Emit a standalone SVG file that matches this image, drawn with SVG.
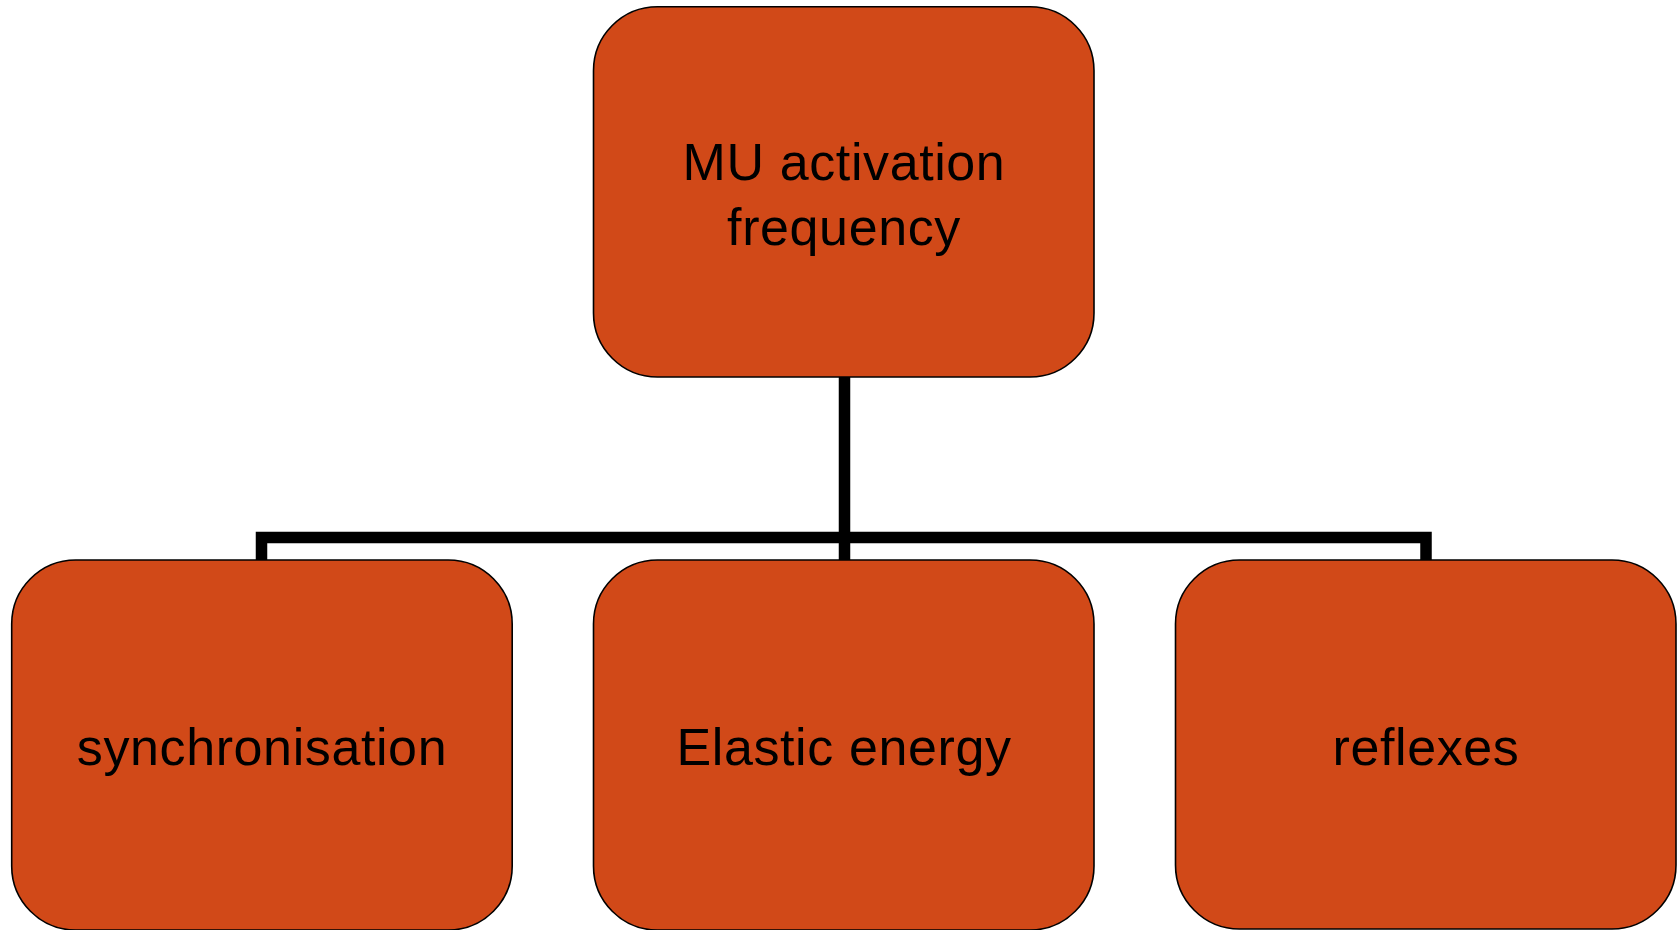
<svg xmlns="http://www.w3.org/2000/svg" width="1680" height="930" viewBox="0 0 1680 930">
<style>
.box{fill:#D14918;stroke:#000;stroke-width:1.6}
.lbl{font-family:"Liberation Sans",Arial,sans-serif;font-size:52px;letter-spacing:0.6px;fill:#000;text-anchor:middle}
.con{fill:none;stroke:#000;stroke-width:11.5;stroke-linejoin:miter;stroke-linecap:butt}
</style>
<rect width="1680" height="930" fill="#fff"/>
<g id="connectors">
<path class="con" d="M844.5 377 V560"/>
<path class="con" d="M261.5 560 V537.5 H1426 V560"/>
</g>
<g id="node-top">
<rect class="box" x="593.5" y="6.8" width="500.5" height="370.2" rx="64" ry="64"/>
<text class="lbl" x="844" y="180">MU activation</text>
<text class="lbl" x="844" y="245">frequency</text>
</g>
<g id="node-sync">
<rect class="box" x="11.7" y="560" width="500.5" height="370" rx="64" ry="64"/>
<text class="lbl" x="262" y="765">synchronisation</text>
</g>
<g id="node-elastic">
<rect class="box" x="593.5" y="560" width="500.5" height="370" rx="64" ry="64"/>
<text class="lbl" x="844" y="765">Elastic energy</text>
</g>
<g id="node-reflexes">
<rect class="box" x="1175.5" y="560" width="500.5" height="369" rx="64" ry="64"/>
<text class="lbl" x="1426" y="765">reflexes</text>
</g>
</svg>
